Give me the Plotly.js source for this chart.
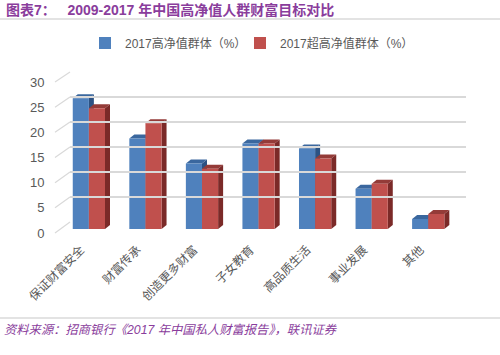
<!DOCTYPE html>
<html>
<head>
<meta charset="utf-8">
<script src="https://cdn.plot.ly/plotly-3.0.1.min.js"></script>
<style>html,body{margin:0;padding:0;background:#fff;}#chart{width:500px;height:355px;}</style>
</head>
<body>
<div id="chart"></div>
<script>
// ---- data ----
const categories = ["保证财富安全", "财富传承", "创造更多财富", "子女教育", "高品质生活", "事业发展", "其他"];
const seriesNames = ["2017高净值群体（%）", "2017超高净值群体（%）"];
const hnwValues = [26, 18, 13, 17, 16, 8, 2];
const uhnwValues = [24, 21, 12, 17, 14, 9, 3];
const yTicks = [0, 5, 10, 15, 20, 25, 30];
const titleText = "图表7：  2009-2017 年中国高净值人群财富目标对比";
const sourceText = "资料来源：招商银行《2017 年中国私人财富报告》，联讯证券";

// ---- geometry helpers (pixels -> paper) ----
const W = 500, H = 355;
const px = x => x / W;
const py = y => 1 - y / H;

const blue = '#4f81bd', red = '#c0504d';
const blueTop = '#3a679e', blueSide = '#2c5283';
const redTop = '#943b38', redSide = '#7b2a28';
const gridColor = '#d9d9d9';
const textGray = '#595959';
const purple = '#8a3d9c';

const bargap = 0.43;
const w = (1 - bargap) / 2;          // bar width in category units
const pxPerCat = (456.5 - 60.6) / 7;
const yBar0 = 229, yBarTop = 72, pxPerUnit = 5.03;
const dx = 5 / pxPerCat;             // depth offset in category units
const dy = 4 / pxPerUnit;            // depth offset in value units

const idx = categories.map((c, i) => i);
const traces = [
  {type: 'bar', name: seriesNames[0], x: idx, y: hnwValues, legend: 'legend',
   marker: {color: blue}, xaxis: 'x', yaxis: 'y', hoverinfo: 'skip'},
  {type: 'bar', name: seriesNames[1], x: idx, y: uhnwValues, legend: 'legend2',
   marker: {color: red}, xaxis: 'x', yaxis: 'y', hoverinfo: 'skip'},
  // empty helper traces so the wall-grid and label axes are drawn
  {type: 'scatter', mode: 'none', x: [], y: [], xaxis: 'x2', yaxis: 'y2', showlegend: false, hoverinfo: 'skip'},
  {type: 'scatter', mode: 'none', x: [], y: [], xaxis: 'x3', yaxis: 'y3', showlegend: false, hoverinfo: 'skip'}
];

const shapes = [];
hnwValues.forEach((v, i) => {
  const l = i - w, r = i;
  shapes.push({type: 'path', xref: 'x', yref: 'y', layer: 'below', line: {width: 0}, fillcolor: blueSide,
    path: `M${r},0 L${r + dx},${dy} L${r + dx},${v + dy} L${r},${v} Z`});
  shapes.push({type: 'path', xref: 'x', yref: 'y', layer: 'below', line: {width: 0}, fillcolor: blueTop,
    path: `M${l},${v} L${r},${v} L${r + dx},${v + dy} L${l + dx},${v + dy} Z`});
});
uhnwValues.forEach((v, i) => {
  const l = i, r = i + w;
  shapes.push({type: 'path', xref: 'x', yref: 'y', layer: 'below', line: {width: 0}, fillcolor: redTop,
    path: `M${l},${v} L${r},${v} L${r + dx},${v + dy} L${l + dx},${v + dy} Z`});
  shapes.push({type: 'path', xref: 'x', yref: 'y', layer: 'below', line: {width: 0}, fillcolor: redSide,
    path: `M${r},0 L${r + dx},${dy} L${r + dx},${v + dy} L${r},${v} Z`});
});
// diagonal connectors of the 3D wall (front label plane -> back grid plane)
yTicks.forEach(v => {
  shapes.push({type: 'line', xref: 'paper', yref: 'paper',
    x0: px(55), y0: py(233 - v * 151 / 30), x1: px(70), y1: py(222 - v * 5),
    line: {color: gridColor, width: 1.2}});
});
// title underline and footer line
shapes.push({type: 'line', xref: 'paper', yref: 'paper', x0: 0, x1: 1, y0: py(19), y1: py(19), line: {color: '#c8c8c8', width: 1.2}});
shapes.push({type: 'line', xref: 'paper', yref: 'paper', x0: 0, x1: 1, y0: py(318), y1: py(318), line: {color: '#c8c8c8', width: 1.2}});

const legendFont = {size: 12, color: textGray, family: 'Liberation Sans, Noto Sans CJK SC, sans-serif'};
const layout = {
  width: W, height: H,
  margin: {l: 0, r: 0, t: 0, b: 0},
  paper_bgcolor: '#fff', plot_bgcolor: 'rgba(0,0,0,0)',
  hovermode: false,
  barmode: 'group', bargap: bargap, bargroupgap: 0,
  font: {family: 'Liberation Sans, Noto Sans CJK SC, sans-serif', color: textGray, size: 12},
  showlegend: true,
  legend: {orientation: 'h', x: px(85), y: py(43), xanchor: 'left', yanchor: 'middle',
    font: legendFont, bgcolor: 'rgba(0,0,0,0)'},
  legend2: {orientation: 'h', x: px(240), y: py(43), xanchor: 'left', yanchor: 'middle',
    font: legendFont, bgcolor: 'rgba(0,0,0,0)'},
  // bars subplot
  xaxis: {domain: [px(60.6), px(456.5)], range: [-0.5, 6.5], anchor: 'y',
    tickmode: 'array', tickvals: idx, ticktext: categories,
    tickangle: -45, ticks: 'outside', ticklen: 8, tickcolor: 'rgba(0,0,0,0)',
    ticklabelshift: -8,
    tickfont: {family: 'Noto Sans CJK SC, sans-serif', size: 12, color: textGray},
    showgrid: false, zeroline: false, showline: false, fixedrange: true},
  yaxis: {domain: [py(yBar0), py(yBarTop)], range: [0, (yBar0 - yBarTop) / pxPerUnit], anchor: 'x',
    showgrid: false, zeroline: false, showticklabels: false, showline: false, fixedrange: true},
  // back wall grid subplot
  xaxis2: {domain: [px(70), px(466)], range: [0, 1], anchor: 'y2', showgrid: false, zeroline: false,
    showticklabels: false, showline: false, ticks: '', fixedrange: true},
  yaxis2: {domain: [py(222.5), py(71.5)], range: [-0.1, 30.1], anchor: 'x2',
    tickmode: 'array', tickvals: yTicks, showgrid: true, gridcolor: gridColor, gridwidth: 1.3,
    zeroline: false, showticklabels: false, showline: false, ticks: '', fixedrange: true},
  // front label plane subplot
  xaxis3: {domain: [px(55), px(60)], range: [0, 1], anchor: 'y3', showgrid: false, zeroline: false,
    showticklabels: false, showline: false, ticks: '', fixedrange: true},
  yaxis3: {domain: [py(233), py(82)], range: [0, 30], anchor: 'x3',
    tickmode: 'array', tickvals: yTicks, ticktext: yTicks.map(String),
    ticks: 'outside', ticklen: 7, tickcolor: 'rgba(0,0,0,0)',
    tickfont: {family: 'Liberation Sans, sans-serif', size: 13, color: textGray},
    showgrid: false, zeroline: false, showline: false, fixedrange: true},
  shapes: shapes,
  annotations: [
    {xref: 'paper', yref: 'paper', x: px(4), y: py(10), xanchor: 'left', yanchor: 'middle', showarrow: false,
     text: '<b>' + titleText.replace('  ', '&nbsp;&nbsp;&nbsp;') + '</b>',
     font: {family: 'Liberation Sans, Noto Sans CJK SC, sans-serif', size: 14, color: purple}},
    {xref: 'paper', yref: 'paper', x: px(2), y: py(330), xanchor: 'left', yanchor: 'middle', showarrow: false,
     text: '<i>' + sourceText + '</i>',
     font: {family: 'Liberation Sans, Noto Sans CJK SC, sans-serif', size: 12.3, color: purple}}
  ]
};

Plotly.newPlot('chart', traces, layout, {displayModeBar: false, staticPlot: true});
</script>
</body>
</html>
